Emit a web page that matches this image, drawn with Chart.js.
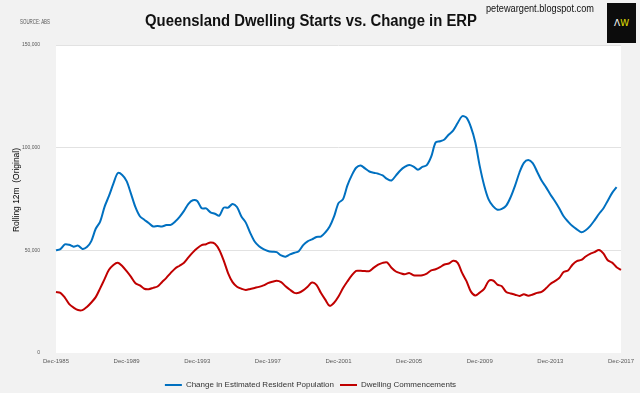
<!DOCTYPE html>
<html>
<head>
<meta charset="utf-8">
<script src="https://cdn.jsdelivr.net/npm/chart.js@4.4.0/dist/chart.umd.min.js"></script>
<style>
html, body { margin: 0; padding: 0; background: #f2f2f2; }
#wrap { position: relative; width: 640px; height: 393px; overflow: hidden; }
canvas { position: absolute; left: 0; top: 0; }
.txt { position: absolute; font-family: 'Liberation Sans', Arial, sans-serif; white-space: nowrap; line-height: 1; transform-origin: left top; }
#title { left: 145px; top: 13px; font-size: 16px; font-weight: bold; color: #111; }
#source { left: 20px; top: 18px; font-size: 7px; color: #555; }
#blog { left: 486px; top: 4px; font-size: 10px; color: #111; }
#ytitle { left: 12px; top: 232px; font-size: 9px; color: #000; }
#logo { position: absolute; left: 607px; top: 3px; width: 29px; height: 40px; background: #0c0c0c; font-size: 9px; text-align: center; line-height: 40px; font-family: 'DejaVu Sans', sans-serif; }
#logo .a { color: #ffffff; }
#logo .w { color: #e6e000; }
</style>
</head>
<body>
<div id="wrap">
  <canvas id="lineChart" width="640" height="393"></canvas>
  <div class="txt" id="title">Queensland Dwelling Starts vs. Change in ERP</div>
  <div class="txt" id="source">SOURCE: ABS</div>
  <div class="txt" id="blog">petewargent.blogspot.com</div>
  <div class="txt" id="ytitle">Rolling 12m&nbsp; (Original)</div>
  <div id="logo"><span class="a">Λ</span><span class="w">W</span></div>
</div>
<script>
// quarterly, Dec-1985 .. Dec-2017
const quarterMonths = ['Mar', 'Jun', 'Sep', 'Dec'];
const tickLabels = ['Dec-1985', 'Dec-1989', 'Dec-1993', 'Dec-1997', 'Dec-2001', 'Dec-2005', 'Dec-2009', 'Dec-2013', 'Dec-2017'];

const erpChange = [
    50000, 50600, 52900, 52700, 51800, 52300, 50700, 51600, 54500, 60500,
    64000, 71200, 76500, 82500, 87600, 86700, 83700, 77500, 71000, 66600,
    64900, 63300, 61600, 61900, 61600, 62300, 62400, 64000, 66300, 69200,
    72600, 74400, 74000, 70500, 70400, 68500, 67800, 66900, 70800, 70800,
    72600, 71100, 66500, 63500, 58500, 54300, 52000, 50600, 49700, 49300,
    49100, 47500, 46900, 48000, 48800, 49600, 52500, 54400, 55300, 56500,
    56700, 58700, 61600, 66500, 73000, 74800, 81500, 86500, 90200, 91300,
    89900, 88400, 87800, 87300, 86500, 84800, 84000, 86400, 88900, 90600,
    91500, 90800, 89300, 90600, 91500, 95600, 102500, 103100, 104000, 106400,
    108400, 112000, 115300, 114600, 110000, 102500, 91000, 81600, 74800, 71500,
    69800, 70200, 71800, 75900, 81500, 87900, 92600, 94000, 92500, 88300,
    84000, 80800, 77200, 74000, 70500, 66600, 64000, 61800, 60200, 58800,
    59800, 61800, 64600, 67700, 70400, 74200, 78000, 80800, null
];

const commencements = [
    29700, 29300, 27000, 23800, 22100, 20900, 20900, 22400, 24600, 27200,
    31500, 36000, 40500, 42900, 44000, 42400, 39900, 37100, 34000, 32900,
    31300, 31100, 31700, 32400, 34500, 36600, 39000, 41200, 42500, 44000,
    46600, 49000, 51000, 52500, 53000, 53800, 53200, 50200, 45000, 38800,
    34500, 32300, 31300, 30700, 31200, 31700, 32200, 32900, 34000, 34700,
    35200, 34500, 32500, 30800, 29300, 29300, 30500, 32300, 34300, 33200,
    29300, 26000, 23000, 24500, 27500, 31500, 34800, 37800, 40000, 40000,
    39900, 39900, 41600, 43000, 43900, 44100, 41500, 39700, 38900, 38300,
    39000, 37900, 37800, 37900, 38700, 40200, 40800, 41800, 43100, 43600,
    44900, 43900, 39000, 35000, 29900, 28000, 29400, 31200, 35000, 35300,
    33300, 32500, 29700, 29000, 28400, 27800, 28600, 27900, 28500, 29300,
    29800, 31500, 33600, 35000, 36500, 39400, 40200, 43000, 44800, 45300,
    47000, 48300, 49100, 50200, 48500, 45200, 44000, 41800, 40500
];

var labels = [];
for (var yr = 1985; yr <= 2017; yr++) {
    for (var q = 0; q < 4; q++) {
        if (yr === 1985 && q < 3) continue;
        labels.push(quarterMonths[q] + '-' + yr);
    }
}

// squeeze the html texts to the narrow widths of the original
function squeeze(id, w, extra) {
    const el = document.getElementById(id);
    const s = w / el.getBoundingClientRect().width;
    el.style.transform = (extra || '') + ' scaleX(' + s + ')';
}
squeeze('title', 332);
squeeze('source', 30);
squeeze('blog', 108);
squeeze('ytitle', 84, 'rotate(-90deg)');

Chart.defaults.font.family = "'Liberation Sans', Arial, sans-serif";

// white plot area
const plotBg = {
    id: 'plotBg',
    beforeDraw(chart) {
        const a = chart.chartArea;
        const c = chart.ctx;
        c.save();
        c.fillStyle = '#ffffff';
        c.fillRect(a.left, a.top, a.right - a.left, a.bottom - a.top);
        c.restore();
    }
};

const ctx = document.getElementById('lineChart');

window.chart = new Chart(ctx, {
    type: 'line',
    data: {
        labels: labels,
        datasets: [{
            label: 'Change in Estimated Resident Population',
            data: erpChange,
            borderColor: '#0070c0',
            backgroundColor: '#0070c0',
            borderWidth: 2,
            pointRadius: 0,
            tension: 0.3
        }, {
            label: 'Dwelling Commencements',
            data: commencements,
            borderColor: '#c00000',
            backgroundColor: '#c00000',
            borderWidth: 2,
            pointRadius: 0,
            tension: 0.3
        }]
    },
    options: {
        responsive: false,
        animation: false,
        layout: { padding: { left: 0, right: 19, top: 45, bottom: 0 } },
        plugins: {
            tooltip: { enabled: false },
            legend: {
                position: 'bottom',
                maxHeight: 18,
                labels: {
                    boxWidth: 17,
                    boxHeight: 2,
                    padding: 6,
                    color: '#333',
                    font: { size: 8 },
                    generateLabels(chart) {
                        return Chart.defaults.plugins.legend.labels.generateLabels(chart).map(l => {
                            l.lineWidth = 0;
                            return l;
                        });
                    }
                }
            }
        },
        scales: {
            x: {
                grid: { display: false, drawTicks: false },
                border: { display: false },
                ticks: {
                    autoSkip: false,
                    maxRotation: 0,
                    minRotation: 0,
                    padding: 5,
                    color: '#595959',
                    font: { size: 6 },
                    callback: function (val, idx) {
                        return idx % 16 === 0 ? tickLabels[idx / 16] : null;
                    }
                },
                afterFit(scale) { scale.height = 22; }
            },
            y: {
                min: 0,
                max: 150000,
                border: { display: false },
                grid: {
                    drawTicks: false,
                    color: ctx => ctx.tick && ctx.tick.value === 0 ? 'rgba(0,0,0,0)' : '#e2e2e2'
                },
                ticks: {
                    stepSize: 50000,
                    padding: 16,
                    color: '#595959',
                    font: { size: 5 },
                    callback: v => v.toLocaleString('en-US')
                },
                afterFit(scale) { scale.width = 56; }
            }
        }
    },
    plugins: [plotBg]
});
</script>
</body>
</html>
